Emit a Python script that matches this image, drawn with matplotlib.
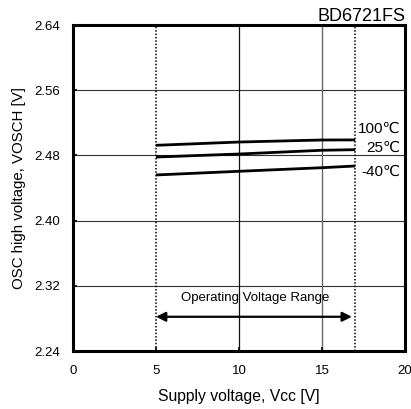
import matplotlib
matplotlib.use("Agg")
import matplotlib.pyplot as plt
import numpy as np

plt.rcParams['font.family'] = ['Liberation Sans', 'DejaVu Sans']

# Supply voltage sweep [V]
vcc = [5, 10, 15, 17]
# OSC high voltage [V] at each temperature
vosch_100 = [2.4924, 2.4964, 2.4989, 2.4990]
vosch_25 = [2.4780, 2.4817, 2.4863, 2.4870]
vosch_m40 = [2.4560, 2.4605, 2.4649, 2.4670]
temp_labels = ["100\u2103", "25\u2103", "-40\u2103"]

x_ticks = [0, 5, 10, 15, 20]
y_ticks = [2.24, 2.32, 2.40, 2.48, 2.56, 2.64]
op_range = (5, 17)

fig = plt.figure(figsize=(4.11, 4.09), dpi=100)
ax = fig.add_axes([73 / 411, 1 - 351 / 409, 332 / 411, 326 / 409])

ax.set_xlim(0, 20)
ax.set_ylim(2.24, 2.64)

# grid
for y in y_ticks[1:-1]:
    ax.axhline(y, color='#333333', lw=0.8, zorder=1)
ax.axvline(10, color='#111111', lw=0.9, zorder=1)
ax.axvline(15, color='#666666', lw=1.0, zorder=1)
for x in op_range:
    ax.axvline(x, color='black', lw=1.1, ls=(0, (1, 1.2)), zorder=1)

for vals in (vosch_100, vosch_25, vosch_m40):
    ax.plot(vcc, vals, color='black', lw=2.0, solid_capstyle='butt', zorder=3)

label_y = [2.5122, 2.4895, 2.4600]
for t, ly in zip(temp_labels, label_y):
    ax.text(19.75, ly, t, ha='right', va='center', fontsize=11, zorder=4)

ax.annotate('', xy=(op_range[0], 2.282), xytext=(16.8, 2.282),
            arrowprops=dict(arrowstyle='<|-|>', color='black', lw=1.6,
                            mutation_scale=14, shrinkA=0, shrinkB=0))
ax.text(10.95, 2.3055, 'Operating Voltage Range', ha='center', va='center',
        fontsize=9.5)

ax.set_xticks(x_ticks)
ax.set_yticks(y_ticks)
ax.set_yticklabels([f"{v:.2f}" for v in y_ticks])
ax.tick_params(direction='in', length=3, width=1.2, labelsize=9.5, pad=9.5)
ax.tick_params(axis='x', pad=10)
for s in ax.spines.values():
    s.set_linewidth(2.2)

ax.set_xlabel('Supply voltage, Vcc [V]', fontsize=11.3, labelpad=9)
ax.set_ylabel('OSC high voltage, VOSCH [V]', fontsize=10.8, labelpad=6)
ax.set_title('BD6721FS', loc='right', fontsize=13, pad=0.5)

fig.savefig('out.png', dpi=100)
